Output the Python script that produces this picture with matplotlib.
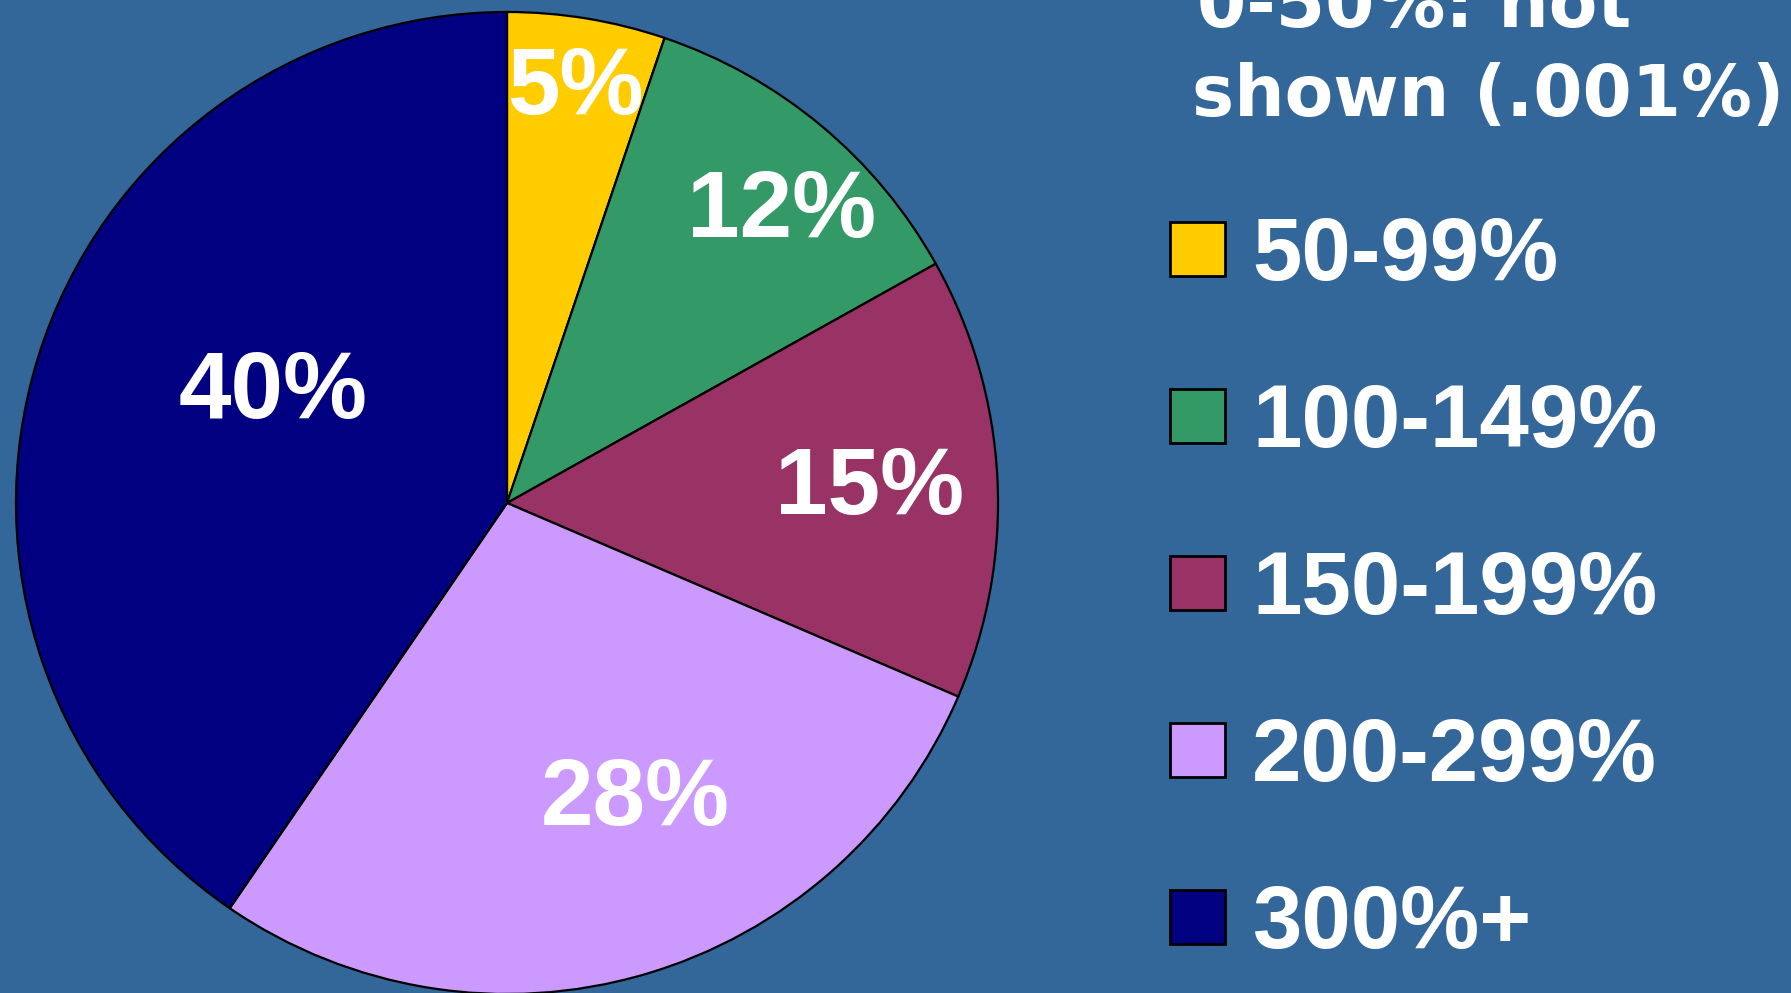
import numpy as np
import matplotlib
matplotlib.use('Agg')
import matplotlib.pyplot as plt
from matplotlib.patches import Rectangle

# data
categories = ["50-99%", "100-149%", "150-199%", "200-299%", "300%+"]
shares = [5.2, 11.7, 14.55, 28.1, 40.45]       # slice sizes as drawn
share_labels = ["5%", "12%", "15%", "28%", "40%"]  # labels printed on slices
colors = ["#FFCC00", "#339966", "#993366", "#CC99FF", "#000080"]
note_lines = ["0-50%: not", "shown (.001%)"]

# label placement (fraction of radius, angle in degrees)
label_r = [0.875, 0.83, 0.74, 0.64, 0.535]
label_ang = [80.8, 47.6, 3.8, -65.9, 152.7]

BG = "#336699"
W, H = 1791, 993
fig = plt.figure(figsize=(W / 100, H / 100), dpi=100, facecolor=BG)

# pie: centre (507, 503) from top, radius 491 px
R = 491
cx, cy = 507, H - 503
ax = fig.add_axes([(cx - R) / W, (cy - R) / H, 2 * R / W, 2 * R / H])
ax.set_facecolor(BG)
ax.pie(shares, colors=colors, startangle=90, counterclock=False, radius=1,
       wedgeprops=dict(edgecolor="black", linewidth=1.6))
ax.set_xlim(-1, 1)
ax.set_ylim(-1, 1)
ax.set_aspect("equal")
ax.axis("off")

for lab, r, a in zip(share_labels, label_r, label_ang):
    t = np.deg2rad(a)
    ax.text(r * np.cos(t), r * np.sin(t) - 0.072, lab, color="white",
            fontsize=68, fontweight="bold", family="Liberation Sans",
            ha="center", va="baseline")

# note at top right (partly cut off, as in the original slide)
fig.text(1197 / W, 1 - 27 / H, note_lines[0], color="white", fontsize=51,
         fontweight="bold", family="DejaVu Sans", ha="left", va="baseline")
fig.text(1192 / W, 1 - 116 / H, note_lines[1], color="white", fontsize=51,
         fontweight="bold", family="DejaVu Sans", ha="left", va="baseline")

# legend
sq_w, sq_h = 55, 54
for i, (lab, c) in enumerate(zip(categories, colors)):
    yc = 249 + i * 167
    fig.add_artist(Rectangle(((1197 - sq_w / 2) / W, 1 - (yc + sq_h / 2) / H),
                             sq_w / W, sq_h / H, transform=fig.transFigure,
                             facecolor=c, edgecolor="black", linewidth=2))
    fig.text(1252 / W, 1 - (yc + 31) / H, lab, color="white", fontsize=64,
             fontweight="bold", family="Liberation Sans",
             ha="left", va="baseline")

fig.savefig("out.png", dpi=100, facecolor=BG)
